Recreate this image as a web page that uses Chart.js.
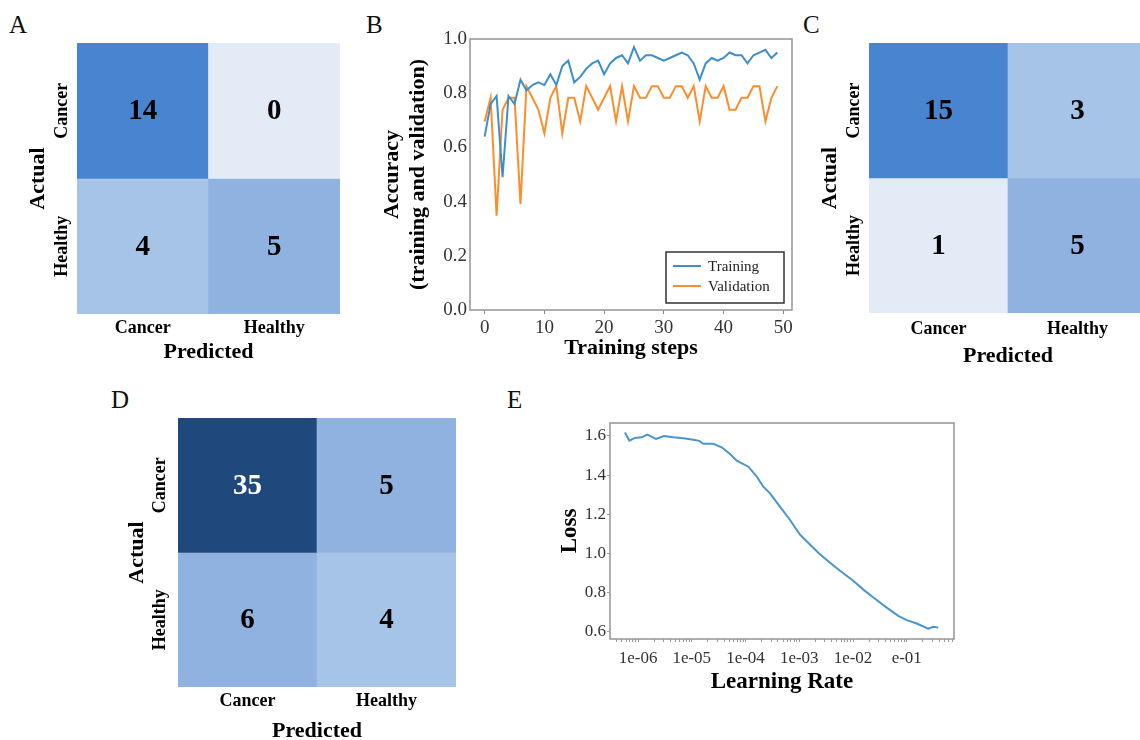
<!DOCTYPE html>
<html>
<head>
<meta charset="utf-8">
<script src="https://cdn.jsdelivr.net/npm/chart.js@4.4.0/dist/chart.umd.min.js"></script>
<style>
  html, body { margin: 0; padding: 0; background: #fff; }
  body { position: relative; width: 1140px; height: 740px; overflow: hidden; }
  canvas { position: absolute; }
  .tag { position: absolute; font: 25px 'Liberation Serif', 'Times New Roman', serif; line-height: 1; color: #111; }
</style>
</head>
<body>
<div class="tag" style="left:9px;top:12px">A</div>
<div class="tag" style="left:366px;top:12px">B</div>
<div class="tag" style="left:803px;top:12px">C</div>
<div class="tag" style="left:111px;top:387px">D</div>
<div class="tag" style="left:507px;top:387px">E</div>

<canvas id="cmA" width="360" height="370" style="left:0;top:0"></canvas>
<canvas id="accB" width="430" height="350" style="left:370px;top:20px"></canvas>
<canvas id="cmC" width="380" height="375" style="left:780px;top:0"></canvas>
<canvas id="cmD" width="380" height="368" style="left:100px;top:380px"></canvas>
<canvas id="lrE" width="420" height="290" style="left:540px;top:410px"></canvas>

<script>
var SERIF = "'Liberation Serif', 'Times New Roman', serif";

// confusion matrices, rows = actual, cols = predicted
var classes = ['Cancer', 'Healthy'];
var confA = [[14, 0], [4, 5]];
var confC = [[15, 3], [1, 5]];
var confD = [[35, 5], [6, 4]];

// panel B
var trainAcc = [0.64, 0.76, 0.79, 0.49, 0.79, 0.76, 0.85, 0.81, 0.83, 0.84,
                0.83, 0.87, 0.83, 0.90, 0.92, 0.84, 0.86, 0.89, 0.91, 0.92,
                0.87, 0.91, 0.93, 0.94, 0.91, 0.97, 0.92, 0.94, 0.94, 0.93,
                0.92, 0.93, 0.94, 0.95, 0.94, 0.91, 0.85, 0.91, 0.93, 0.92,
                0.93, 0.95, 0.94, 0.94, 0.91, 0.94, 0.95, 0.96, 0.93, 0.95];
var valAcc = [0.696, 0.783, 0.348, 0.739, 0.783, 0.783, 0.391, 0.826, 0.783, 0.739,
              0.652, 0.783, 0.826, 0.652, 0.783, 0.783, 0.696, 0.826, 0.783, 0.739,
              0.783, 0.826, 0.696, 0.826, 0.696, 0.826, 0.783, 0.783, 0.826, 0.826,
              0.783, 0.783, 0.826, 0.826, 0.783, 0.826, 0.696, 0.826, 0.783, 0.783,
              0.826, 0.739, 0.739, 0.783, 0.783, 0.826, 0.826, 0.696, 0.783, 0.826];
var steps = trainAcc.map(function (v, i) { return i; });
var stepTicks = [0, 10, 20, 30, 40, 50];
var accTicks = [0, 0.2, 0.4, 0.6, 0.8, 1.0];

// panel E
var learningRates = [5.7e-7, 6.9e-7, 8.8e-7, 1.17e-6, 1.49e-6, 2.16e-6, 3.05e-6, 4.54e-6,
                     6.97e-6, 1.07e-5, 1.38e-5, 1.64e-5, 2.51e-5, 3.6e-5, 5.15e-5, 6.86e-5,
                     1.13e-4, 1.62e-4, 2.14e-4, 2.86e-4, 4.38e-4, 6.73e-4, 1.03e-3, 1.58e-3,
                     2.26e-3, 3.73e-3, 5.73e-3, 1.01e-2, 1.56e-2, 2.39e-2, 4.24e-2, 6.97e-2,
                     0.1, 0.153, 0.251, 0.312, 0.386];
var lossValues = [1.617, 1.576, 1.590, 1.593, 1.607, 1.585, 1.600, 1.593,
                  1.588, 1.580, 1.575, 1.560, 1.560, 1.542, 1.508, 1.474,
                  1.443, 1.392, 1.341, 1.307, 1.239, 1.171, 1.097, 1.046,
                  1.004, 0.953, 0.912, 0.861, 0.816, 0.776, 0.724, 0.682,
                  0.660, 0.643, 0.617, 0.626, 0.622];
var lossTicks = [0.6, 0.8, 1.0, 1.2, 1.4, 1.6];
var lrTickLabels = ['1e-06', '1e-05', '1e-04', '1e-03', '1e-02', 'e-01'];

Chart.defaults.font.family = SERIF;
Chart.defaults.color = '#000';

// stepped blue palette for the matrix cells
var cellSteps = [2, 4.5, 10, 25];
var cellColours = ['#e3ebf7', '#a6c4e8', '#8fb2e1', '#4884d0', '#1f497d'];
function cellColour(v) {
  var k = 0;
  while (k < cellSteps.length && v > cellSteps[k]) k++;
  return cellColours[k];
}

function cellText(matrix) {
  return {
    id: 'cellText',
    afterDatasetsDraw: function (chart) {
      var ctx = chart.ctx;
      ctx.save();
      ctx.font = 'bold 29px ' + SERIF;
      ctx.textAlign = 'center';
      ctx.textBaseline = 'middle';
      matrix.forEach(function (row, r) {
        chart.getDatasetMeta(r).data.forEach(function (bar, c) {
          ctx.fillStyle = row[c] > 25 ? '#fff' : '#000';
          ctx.fillText(String(row[c]), bar.x, (bar.y + bar.base) / 2 + 1);
        });
      });
      ctx.restore();
    }
  };
}

var tickFont = 'bold 18px ' + SERIF;
var measure = document.createElement('canvas').getContext('2d');
measure.font = tickFont;
var halfWidest = Math.max.apply(null, classes.map(function (s) {
  return measure.measureText(s).width;
})) / 2;

function confusion(id, matrix, lay) {
  return new Chart(document.getElementById(id), {
    type: 'bar',
    data: {
      labels: classes,
      datasets: matrix.map(function (row, r) {
        return {
          label: classes[r],
          data: row.map(function () { return 1; }),
          backgroundColor: row.map(cellColour),
          borderWidth: 0,
          barPercentage: 1,
          categoryPercentage: 1
        };
      })
    },
    options: {
      responsive: false,
      animation: false,
      devicePixelRatio: 1,
      layout: { padding: lay.padding },
      plugins: { legend: { display: false }, tooltip: { enabled: false } },
      scales: {
        x: {
          stacked: true,
          grid: { display: false, drawTicks: false },
          border: { display: false },
          ticks: { color: '#000', font: { size: 18, weight: 'bold' }, padding: lay.xPad, maxRotation: 0 },
          title: { display: true, text: 'Predicted', color: '#000', font: { size: 22, weight: 'bold' }, padding: 0 },
          afterFit: function (s) { s.height = lay.xHeight; }
        },
        y: {
          stacked: true,
          reverse: true,
          min: 0,
          max: 2,
          grid: { display: false, drawTicks: false },
          border: { display: false },
          afterBuildTicks: function (s) {
            s.ticks = classes.map(function (c, i) { return { value: i + 0.5 }; });
          },
          ticks: {
            color: '#000',
            font: { size: 18, weight: 'bold' },
            callback: function (v) { return classes[Math.floor(v)]; },
            minRotation: 90,
            maxRotation: 90,
            crossAlign: 'center',
            padding: lay.rowGap - halfWidest
          },
          title: { display: true, text: 'Actual', color: '#000', font: { size: 22, weight: 'bold' }, padding: { top: 5, bottom: 0 } },
          afterFit: function (s) { s.width = lay.yWidth; }
        }
      }
    },
    plugins: [cellText(matrix)]
  });
}

confusion('cmA', confA, { padding: { left: 20, right: 20, top: 43, bottom: 4 }, yWidth: 57, xHeight: 52, xPad: 4, rowGap: 15 });
confusion('cmC', confC, { padding: { left: 32, right: 13, top: 43, bottom: 5 }, yWidth: 57, xHeight: 57, xPad: 6, rowGap: 15 });
confusion('cmD', confD, { padding: { left: 19, right: 24, top: 38, bottom: 3 }, yWidth: 59, xHeight: 58, xPad: 4, rowGap: 18 });

var frame = {
  id: 'frame',
  afterDatasetsDraw: function (chart) {
    var a = chart.chartArea, ctx = chart.ctx;
    ctx.save();
    ctx.strokeStyle = '#9a9a9a';
    ctx.lineWidth = 1.6;
    ctx.strokeRect(a.left, a.top, a.right - a.left, a.bottom - a.top);
    ctx.restore();
  }
};

var boxLegend = {
  id: 'boxLegend',
  afterDraw: function (chart) {
    var a = chart.chartArea, ctx = chart.ctx;
    var w = 118, h = 51;
    var x = a.right - w - 8, y = a.bottom - h - 7;
    ctx.save();
    ctx.fillStyle = '#fff';
    ctx.fillRect(x, y, w, h);
    ctx.strokeStyle = '#333';
    ctx.lineWidth = 1.5;
    ctx.strokeRect(x, y, w, h);
    ctx.font = '15px ' + SERIF;
    ctx.textBaseline = 'middle';
    chart.data.datasets.forEach(function (ds, i) {
      var ly = y + 14 + i * 20;
      ctx.strokeStyle = ds.borderColor;
      ctx.lineWidth = 2;
      ctx.beginPath();
      ctx.moveTo(x + 7, ly);
      ctx.lineTo(x + 35, ly);
      ctx.stroke();
      ctx.fillStyle = '#222';
      ctx.fillText(ds.label, x + 42, ly + 1);
    });
    ctx.restore();
  }
};

var axisTickFont = { size: 19 };

new Chart(document.getElementById('accB'), {
  type: 'line',
  data: {
    labels: steps,
    datasets: [
      { label: 'Training', data: trainAcc, borderColor: '#3d8fca', borderWidth: 2, pointRadius: 0, tension: 0 },
      { label: 'Validation', data: valAcc, borderColor: '#fd8d2c', borderWidth: 2, pointRadius: 0, tension: 0 }
    ]
  },
  options: {
    responsive: false,
    animation: false,
    devicePixelRatio: 1,
    layout: { padding: { left: 10, right: 8, top: 19, bottom: 8 } },
    plugins: { legend: { display: false }, tooltip: { enabled: false } },
    scales: {
      x: {
        type: 'linear',
        min: -2.45,
        max: 51.45,
        afterBuildTicks: function (s) { s.ticks = stepTicks.map(function (v) { return { value: v }; }); },
        grid: { drawOnChartArea: false, drawTicks: true, tickLength: 4, color: '#888' },
        border: { display: false },
        ticks: { color: '#333', font: axisTickFont, padding: 3, maxRotation: 0, autoSkip: false },
        title: { display: true, text: 'Training steps', color: '#000', font: { size: 22, weight: 'bold' }, padding: 0 },
        afterFit: function (s) { s.height = 52; }
      },
      y: {
        min: 0,
        max: 1,
        afterBuildTicks: function (s) { s.ticks = accTicks.map(function (v) { return { value: v }; }); },
        grid: { display: false, drawTicks: false },
        border: { display: false },
        ticks: { color: '#333', font: axisTickFont, padding: 3, callback: function (v) { return v.toFixed(1); } },
        title: {
          display: true,
          text: ['Accuracy', '(training and validation)'],
          color: '#000',
          font: { size: 22, weight: 'bold', lineHeight: 1.15 },
          padding: { top: 0, bottom: 0 }
        },
        afterFit: function (s) { s.width = 90; }
      }
    }
  },
  plugins: [frame, boxLegend]
});

new Chart(document.getElementById('lrE'), {
  type: 'scatter',
  data: {
    datasets: [{
      label: 'Loss',
      data: learningRates.map(function (lr, i) { return { x: lr, y: lossValues[i] }; }),
      showLine: true,
      borderColor: '#4a95cb',
      borderWidth: 2,
      pointRadius: 0,
      tension: 0
    }]
  },
  options: {
    responsive: false,
    animation: false,
    devicePixelRatio: 1,
    layout: { padding: { left: 16, right: 6, top: 13, bottom: 4 } },
    plugins: { legend: { display: false }, tooltip: { enabled: false } },
    scales: {
      x: {
        type: 'logarithmic',
        min: 3.01e-7,
        max: 0.757,
        afterBuildTicks: function (s) {
          var t = [];
          for (var e = -7; e <= 0; e++) {
            for (var m = 1; m <= 9; m++) {
              var v = m * Math.pow(10, e);
              if (v >= s.min && v <= s.max) t.push({ value: v, major: m === 1 });
            }
          }
          s.ticks = t;
        },
        grid: { drawOnChartArea: false, drawTicks: true, tickLength: 3, color: '#999' },
        border: { display: false },
        ticks: {
          color: '#333',
          font: { size: 17 },
          padding: 6,
          maxRotation: 0,
          autoSkip: false,
          callback: function (v) {
            var e = Math.log10(v);
            if (Math.abs(e - Math.round(e)) > 1e-6) return '';
            return lrTickLabels[Math.round(e) + 6] || '';
          }
        },
        title: { display: true, text: 'Learning Rate', color: '#000', font: { size: 23, weight: 'bold' }, padding: 0 },
        afterFit: function (s) { s.height = 57; }
      },
      y: {
        min: 0.564,
        max: 1.666,
        afterBuildTicks: function (s) { s.ticks = lossTicks.map(function (v) { return { value: v }; }); },
        grid: { drawOnChartArea: false, drawTicks: true, tickLength: 3, color: '#999' },
        border: { display: false },
        ticks: { color: '#333', font: { size: 17 }, padding: 1, callback: function (v) { return v.toFixed(1); } },
        title: { display: true, text: 'Loss', color: '#000', font: { size: 23, weight: 'bold' }, padding: { top: 0, bottom: 0 } },
        afterFit: function (s) { s.width = 54; }
      }
    }
  },
  plugins: [frame]
});
</script>
</body>
</html>
